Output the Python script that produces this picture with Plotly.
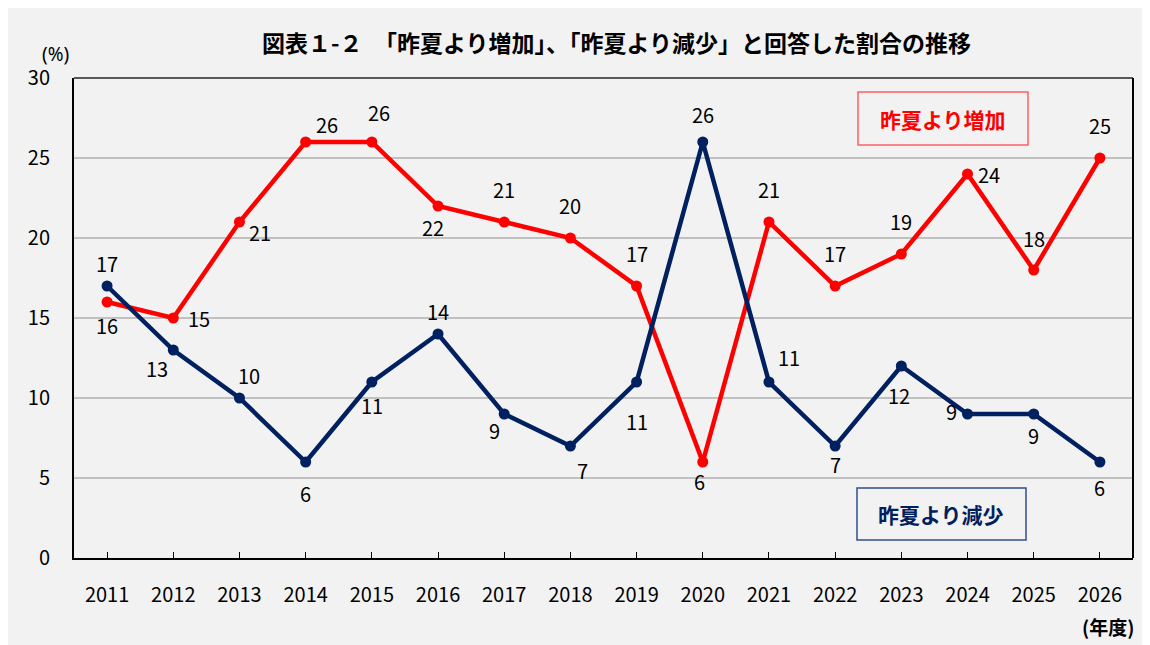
import plotly.graph_objects as go

years = ["2011", "2012", "2013", "2014", "2015", "2016", "2017", "2018",
         "2019", "2020", "2021", "2022", "2023", "2024", "2025", "2026"]
increase = [16, 15, 21, 26, 26, 22, 21, 20, 17, 6, 21, 17, 19, 24, 18, 25]
decrease = [17, 13, 10, 6, 11, 14, 9, 7, 11, 26, 11, 7, 12, 9, 9, 6]
y_ticks = [0, 5, 10, 15, 20, 25, 30]

title_text = "図表１-２　「昨夏より増加」、「昨夏より減少」と回答した割合の推移"
name_inc = "昨夏より増加"
name_dec = "昨夏より減少"

# label offsets in pixels (dx right, dy down)
inc_off = [(0, 23), (26, 0), (21, 10), (21, -18), (7, -30), (-5, 21), (0, -33), (0, -33),
           (0, -33), (-3, 19), (0, -33), (0, -33), (0, -33), (21, 0), (0, -32), (0, -33)]
dec_off = [(0, -23), (-16, 18), (10, -23), (0, 31), (0, 23), (0, -23), (-10, 16), (12, 24),
           (0, 39), (0, -28), (20, -25), (0, 18), (-2, 29), (-16, -3), (0, 21), (0, 25)]

RED = "#FF0000"
NAVY = "#002060"
FONT = "Noto Sans CJK JP"

# page has an 8px body margin; plot area sits at screen x 74..1133, y 78..558
OFF = 8
W, H = 1150 - OFF, 645 - OFF
PL, PR, PT, PB = 74, 1133, 78, 558


def px(xs):
    return (xs - PL) / (PR - PL)


def py(ys):
    return (PB - ys) / (PB - PT)


x_idx = list(range(len(years)))

fig = go.Figure()
fig.add_trace(go.Scatter(x=x_idx, y=increase, mode="lines+markers", name=name_inc,
                         line=dict(color=RED, width=4.5), marker=dict(size=11, color=RED)))
fig.add_trace(go.Scatter(x=x_idx, y=decrease, mode="lines+markers", name=name_dec,
                         line=dict(color=NAVY, width=4.5), marker=dict(size=11, color=NAVY)))

ann = []
for series, offs in ((increase, inc_off), (decrease, dec_off)):
    for i, v in enumerate(series):
        dx, dy = offs[i]
        ann.append(dict(x=i, y=v, xref="x", yref="y", text=str(v), showarrow=False,
                        xanchor="center", yanchor="middle",
                        xshift=dx, yshift=-dy, font=dict(size=20, color="#000000", family=FONT)))


def txt(xs, ys, text, size, color="#000000", family=FONT):
    ann.append(dict(x=px(xs), y=py(ys), xref="paper", yref="paper", text=text, showarrow=False,
                    xanchor="center", yanchor="middle",
                    font=dict(size=size, color=color, family=family)))


txt(943, 119, "<b>" + name_inc + "</b>", 21, RED)
txt(941, 514, "<b>" + name_dec + "</b>", 21, NAVY)
txt(55, 54, "(%)", 19, family="Noto Sans")
txt(1108, 626, "<b>(年度)</b>", 19)
txt(616, 42, "<b>" + title_text + "</b>", 23)

shapes = [
    dict(type="rect", xref="paper", yref="paper", x0=px(858), x1=px(1028), y0=py(145), y1=py(92),
         fillcolor="rgba(0,0,0,0)", line=dict(color="#FF6060", width=1.5)),
    dict(type="rect", xref="paper", yref="paper", x0=px(857), x1=px(1026), y0=py(540), y1=py(488),
         fillcolor="rgba(0,0,0,0)", line=dict(color="#2F4F8F", width=1.5)),
    dict(type="line", xref="paper", yref="paper", x0=0, x1=1, y0=1, y1=1,
         line=dict(color="#595959", width=2)),
    dict(type="line", xref="paper", yref="paper", x0=1, x1=1, y0=0, y1=1,
         line=dict(color="#000000", width=2)),
]

fig.update_layout(
    width=W, height=H,
    margin=dict(l=PL - OFF, r=W - (PR - OFF), t=PT - OFF, b=H - (PB - OFF), pad=0),
    paper_bgcolor="#F2F2F2",
    plot_bgcolor="rgba(0,0,0,0)",
    showlegend=False,
    annotations=ann,
    shapes=shapes,
    font=dict(family=FONT, color="#000000"),
    xaxis=dict(range=[-0.5, 15.5], tickmode="array", tickvals=x_idx, ticktext=years,
               showgrid=False, zeroline=False, showline=True, linecolor="#000000", linewidth=2,
               ticks="inside", ticklen=6, tickcolor="#000000", tickwidth=1,
               ticklabelstandoff=18,
               tickfont=dict(size=20, family=FONT, color="#000000")),
    yaxis=dict(range=[0, 30], tickmode="array", tickvals=y_ticks, ticktext=[str(t) for t in y_ticks],
               showgrid=True, gridcolor="#C0C0C0", gridwidth=1.5, zeroline=False,
               showline=True, linecolor="#000000", linewidth=2, ticks="",
               ticklabelstandoff=18,
               tickfont=dict(size=20, family=FONT, color="#000000")),
)

fig.write_html("out.html")
